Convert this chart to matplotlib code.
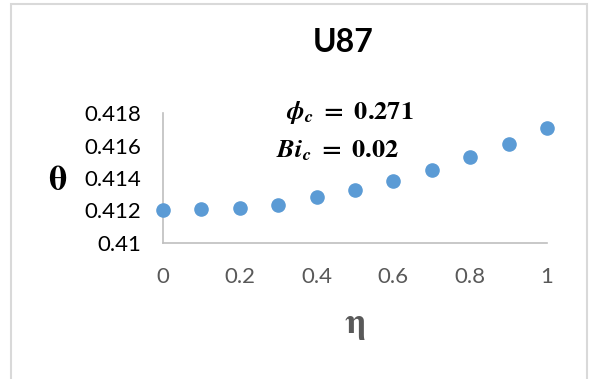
import matplotlib
matplotlib.use("Agg")
import matplotlib.pyplot as plt
from matplotlib.patches import Rectangle

plt.rcParams['font.family'] = ['Lato', 'DejaVu Sans']
plt.rcParams['mathtext.fontset'] = 'stix'

# data
eta = [0, 0.1, 0.2, 0.3, 0.4, 0.5, 0.6, 0.7, 0.8, 0.9, 1.0]
theta = [0.41203, 0.41209, 0.41215, 0.41231, 0.41286, 0.41326,
         0.41382, 0.41449, 0.41529, 0.41609, 0.41708]
xticks = [0, 0.2, 0.4, 0.6, 0.8, 1]
xtick_labels = ['0', '0.2', '0.4', '0.6', '0.8', '1']
yticks = [0.41, 0.412, 0.414, 0.416, 0.418]
ytick_labels = ['0.41', '0.412', '0.414', '0.416', '0.418']

fig = plt.figure(figsize=(5.9, 3.79), dpi=100)
ax = fig.add_axes([163/590, 1 - 243/379, 384/590, 130/379])

ax.scatter(eta, theta, s=90, color='#5B9BD5', zorder=3, clip_on=False)

ax.set_xlim(0, 1)
ax.set_ylim(0.41, 0.418)
ax.set_xticks(xticks)
ax.set_xticklabels(xtick_labels)
ax.set_yticks(yticks)
ax.set_yticklabels(ytick_labels)
ax.tick_params(axis='x', length=0, pad=17, labelsize=16, labelcolor='#595959')
ax.tick_params(axis='y', length=0, pad=16, labelsize=16, labelcolor='#000000')

for side in ['top', 'right']:
    ax.spines[side].set_visible(False)
for side in ['left', 'bottom']:
    ax.spines[side].set_color('#BFBFBF')
    ax.spines[side].set_linewidth(1.2)

# labels and title
fig.text(343/590, 1 - 43/379, 'U87', ha='center', va='center',
         fontsize=23, fontweight='bold', color='#000000')
fig.text(58/590, 1 - 180/379, r'$\mathbf{\theta}$', ha='center', va='center',
         fontsize=26, color='#000000')
fig.text(355/590, 1 - 326/379, r'$\mathbf{\eta}$', ha='center', va='center',
         fontsize=26, color='#595959')
fig.text(350/590, 1 - 112/379, r'$\mathbfit{\phi_c}\ \mathbf{=\ 0.271}$',
         ha='center', va='center', fontsize=19, color='#000000')
fig.text(338/590, 1 - 151/379, r'$\mathbfit{Bi_c}\ \mathbf{=\ 0.02}$',
         ha='center', va='center', fontsize=19, color='#000000')

# chart area border
fig.add_artist(Rectangle((11/590, -0.05), 576/590, 1.05 - 4/379,
                         transform=fig.transFigure, fill=False,
                         edgecolor='#D9D9D9', linewidth=1.5))

fig.savefig('out.png', dpi=100)
